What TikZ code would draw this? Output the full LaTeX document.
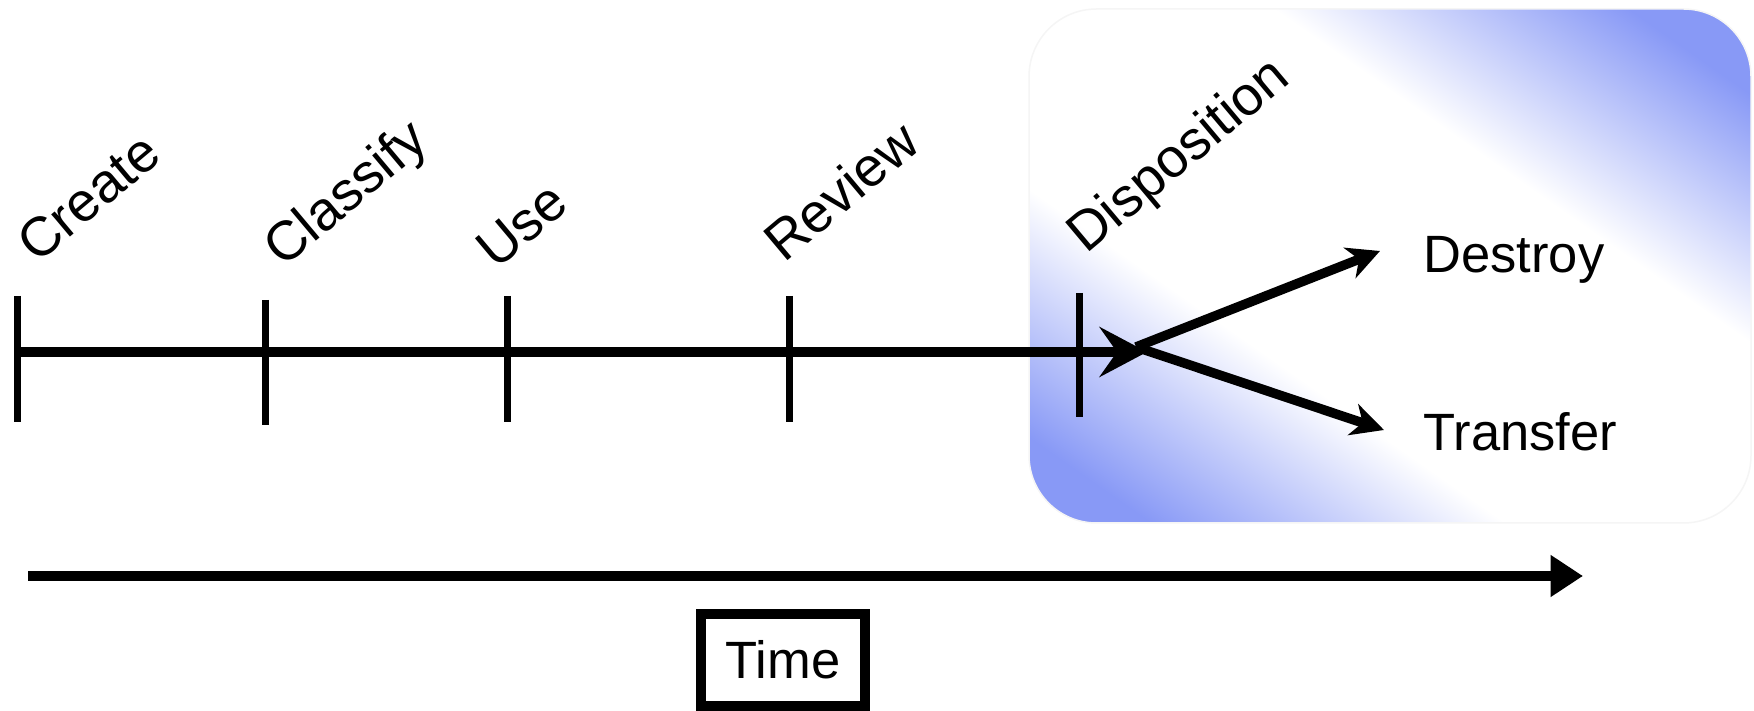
\documentclass[tikz,border=0pt]{standalone}
\usepackage{fontspec}
\setmainfont{Liberation Sans}
\usetikzlibrary{arrows.meta}
\definecolor{dispblue}{RGB}{136,153,246}
\pgfdeclareverticalshading{dispfade}{100bp}{color(0bp)=(dispblue); color(21bp)=(dispblue); color(38bp)=(white); color(62bp)=(white); color(79bp)=(dispblue); color(100bp)=(dispblue)}
\tikzset{
  stage/.style={rotate=40, anchor=base west, inner sep=0pt, font=\fontsize{22}{26}\selectfont},
  outcome/.style={anchor=base west, inner sep=0pt, font=\fontsize{21}{25}\selectfont},
  tickline/.style={line width=2.8pt},
  fork/.style={line width=3.8pt, -{Stealth[length=13pt,width=13pt,inset=4pt]}},
}

\begin{document}
\begin{tikzpicture}[x=0.4pt,y=0.4pt,yscale=-1,xscale=1]
    \useasboundingbox (0,0) rectangle (1754,711);

    %Shape: Rounded Rectangle
    \shade [rounded corners=27pt, shading=dispfade, shading angle=-35] (1029,9) rectangle (1751,523) ;
    \draw [rounded corners=27pt, black!4, line width=0.6pt] (1029,9) rectangle (1751,523) ;

    %Straight Lines
    \coordinate (start) at (17,352);
    \coordinate (end) at (1147,352);
    \draw [line width=4pt, -{Stealth[length=19pt,width=20pt,inset=7pt]}] (start) -- (end) ;
    %Straight Lines
    \draw [tickline] (17,296) -- (17,422) ;
    \draw [tickline] (265,300) -- (265,425) ;
    \draw [tickline] (507,296) -- (507,422) ;
    \draw [tickline] (789,296) -- (789,422) ;
    \draw [tickline] (1079,293) -- (1079,417) ;
    %Straight Lines
    \coordinate (split) at (1136,347);
    \coordinate (destroytip) at (1380,251);
    \coordinate (transfertip) at (1384,430);
    \draw [fork] (split) -- (destroytip) ;
    \draw [fork] (split) -- (transfertip) ;
    %Straight Lines
    \coordinate (tstart) at (28,576);
    \coordinate (tend) at (1583,576);
    \draw [line width=4pt, -{Triangle[length=13pt,width=16pt]}] (tstart) -- (tend) ;

    % Text Node
    \node (create) [stage] at (37,265) {Create};
    % Text Node
    \node (classify) [stage] at (283,269) {Classify};
    % Text Node
    \node (use) [stage] at (496,271) {Use};
    % Text Node
    \node (review) [stage] at (784,264) {Review};
    % Text Node
    \node (disposition) [stage] at (1086,255) {Disposition};
    % Text Node
    \node (destroy) [outcome] at (1423,273) {Destroy};
    % Text Node
    \node (transfer) [outcome] at (1423,451) {Transfer};
    % Text Node
    \node (time) [draw, line width=4pt, minimum width=65.6pt, minimum height=36.4pt, inner sep=0pt, font=\fontsize{21}{25}\selectfont] at (783,660) {Time};

\end{tikzpicture}
\end{document}
